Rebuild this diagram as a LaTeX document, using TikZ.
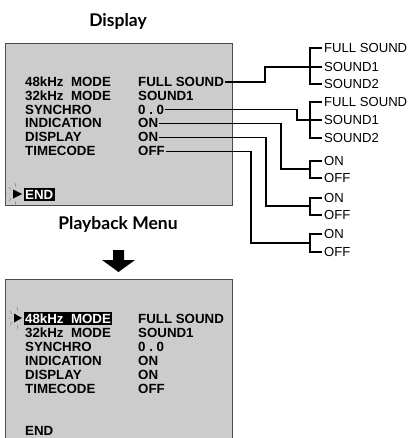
\documentclass[tikz,border=0pt]{standalone}
\usepackage{fontspec}
\setmainfont{Liberation Sans}
\newfontfamily\titlefont{Lato}
\begin{document}
\begin{tikzpicture}[x=1pt,y=-1pt,
  menubox/.style={draw=black!70, fill=black!20, line width=0.8pt, inner sep=0pt},
  item/.style={anchor=base west, inner sep=0pt, font=\bfseries\fontsize{13.3}{14}\selectfont},
  hl/.style={item, fill=black, text=white, inner xsep=1.5pt, inner ysep=1.5pt},
  opt/.style={anchor=west, inner xsep=2pt, inner ysep=0pt, font=\fontsize{13.1}{14}\selectfont},
  conn/.style={line width=1.2pt},
  mainconn/.style={line width=1.8pt},
  ttl/.style={font=\titlefont\bfseries\fontsize{17.5}{20}\selectfont},
  spark/.style={line width=0.4pt, black!55}]
\useasboundingbox (0,0) rectangle (412,438);

% titles
\node[ttl] (t1) at (118,21) {Display};
\node[ttl] (t2) at (118,224) {Playback Menu};

% boxes
\node[menubox, minimum width=227pt, minimum height=162pt, anchor=north west] (box1) at (5,43) {};
\node[menubox, minimum width=227pt, minimum height=160pt, anchor=north west] (box2) at (5,279) {};

% top box items
\node[item] (l1) at (25,87) {48kHz\ \ MODE};
\node[item] (l2) at (25,101) {32kHz\ \ MODE};
\node[item] (l3) at (25,114.5) {SYNCHRO};
\node[item] (l4) at (25,128) {INDICATION};
\node[item] (l5) at (25,142) {DISPLAY};
\node[item] (l6) at (25,156) {TIMECODE};
\node[item] (v1) at (138,87) {FULL SOUND};
\node[item] (v2) at (138,101) {SOUND1};
\node[item] (v3) at (138,114.5) {0\ .\ 0};
\node[item] (v4) at (138,128) {ON};
\node[item] (v5) at (138,142) {ON};
\node[item] (v6) at (138,156) {OFF};
\node[hl] (e1) at (23.5,199) {END};
\fill (13,189.5) -- (22,194) -- (13,198.5) -- cycle;
\draw[spark] (15,183) -- (16,187) (15,205) -- (16,201) (6,194) -- (10,194) (9,187) -- (11,190) (9,201) -- (11,198);

% bottom box items
\node[hl] (m1) at (23.5,323) {48kHz\ \ MODE};
\node[item] (m2) at (25,337) {32kHz\ \ MODE};
\node[item] (m3) at (25,351) {SYNCHRO};
\node[item] (m4) at (25,365) {INDICATION};
\node[item] (m5) at (25,379) {DISPLAY};
\node[item] (m6) at (25,393) {TIMECODE};
\node[item] (w1) at (138,323) {FULL SOUND};
\node[item] (w2) at (138,337) {SOUND1};
\node[item] (w3) at (138,351) {0\ .\ 0};
\node[item] (w4) at (138,365) {ON};
\node[item] (w5) at (138,379) {ON};
\node[item] (w6) at (138,393) {OFF};
\node[item] (e2) at (25,435) {END};
\fill (14,313.5) -- (22,318) -- (14,322.5) -- cycle;
\draw[spark] (17,307) -- (18,311) (17,329) -- (18,325) (8,318) -- (11,318) (10,311) -- (12,314) (10,325) -- (12,322);

% arrow
\fill (113,250) -- (124,250) -- (124,260) -- (135,260) -- (118.5,272) -- (102,260) -- (113,260) -- cycle;

% option labels
\node[opt] (a1) at (322,48) {FULL SOUND};
\node[opt] (a2) at (322,67) {SOUND1};
\node[opt] (a3) at (322,84) {SOUND2};
\node[opt] (a4) at (322,102) {FULL SOUND};
\node[opt] (a5) at (322,120) {SOUND1};
\node[opt] (a6) at (322,138) {SOUND2};
\node[opt] (a7) at (322,161) {ON};
\node[opt] (a8) at (322,178) {OFF};
\node[opt] (a9) at (322,198) {ON};
\node[opt] (a10) at (322,215) {OFF};
\node[opt] (a11) at (322,234) {ON};
\node[opt] (a12) at (322,252) {OFF};

% bracket joints and bends (bend x, joint y)
\coordinate (b1) at (310,67);
\coordinate (b2) at (310,120);
\coordinate (b3) at (310,169);
\coordinate (b4) at (310,206);
\coordinate (b5) at (310,243);
\coordinate (k1) at (265,67);
\coordinate (k2) at (297,120);
\coordinate (k3) at (281,169);
\coordinate (k4) at (266,206);
\coordinate (k5) at (251,243);

% connectors
\draw[mainconn] ([shift={(1,-4.7)}]v1.base east) -| (k1) -- (b1);
\draw[mainconn] (a1.west) -| (b1) |- (a3.west);
\draw[mainconn] (b1) -- (a2.west);

\draw[conn] ([shift={(1,-4.7)}]v3.base east) -| (k2) -- (b2);
\draw[conn] (a4.west) -| (b2) |- (a6.west);
\draw[conn] (b2) -- (a5.west);

\draw[conn] ([shift={(1,-4.7)}]v4.base east) -| (k3) -- (b3);
\draw[conn] (a7.west) -| (b3) |- (a8.west);

\draw[conn] ([shift={(1,-4.7)}]v5.base east) -| (k4) -- (b4);
\draw[conn] (a9.west) -| (b4) |- (a10.west);

\draw[conn] ([shift={(1,-4.7)}]v6.base east) -| (k5) -- (b5);
\draw[conn] (a11.west) -| (b5) |- (a12.west);
\end{tikzpicture}
\end{document}
